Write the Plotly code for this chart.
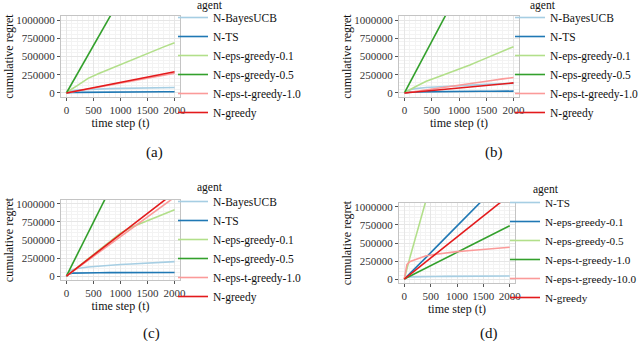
import plotly.graph_objects as go

# time steps sampled along each curve
steps = [0, 50, 100, 200, 400, 600, 800, 1000, 1200, 1400, 1600, 1800, 2000]

# cumulative regret, in thousands
# (a)
a_bayesucb = [0, 20, 30, 40, 50, 55, 60, 63, 66, 69, 71, 73, 75]
a_ts = [0, 5, 7, 9, 11, 12, 13, 14, 14, 15, 15, 16, 16]
a_eps01 = [0, 30, 55, 100, 200, 268, 330, 390, 450, 512, 570, 632, 690]
a_eps05 = [0, 65, 130, 260, 520, 780, 1040, 1300, 1560, 1820, 2080, 2340, 2600]
a_epst10 = [0, 7, 14, 27, 54, 81, 108, 135, 162, 189, 216, 243, 270]
a_greedy = [0, 7, 14, 29, 58, 87, 116, 145, 174, 203, 232, 261, 290]
# (b)
b_bayesucb = [0, 30, 45, 60, 75, 85, 93, 100, 108, 115, 121, 127, 132]
b_ts = [0, 8, 12, 15, 18, 19, 20, 21, 22, 23, 24, 24, 25]
b_eps01 = [0, 25, 45, 85, 160, 215, 270, 322, 385, 447, 510, 572, 635]
b_eps05 = [0, 70, 141, 282, 564, 846, 1128, 1410, 1692, 1974, 2256, 2538, 2820]
b_epst10 = [0, 5, 11, 21, 43, 64, 86, 107, 129, 150, 172, 193, 212]
b_greedy = [0, 3, 7, 14, 28, 41, 55, 69, 83, 97, 110, 124, 138]
# (c)
c_bayesucb = [0, 60, 85, 105, 125, 140, 150, 160, 168, 176, 184, 192, 200]
c_ts = [0, 30, 40, 43, 45, 46, 47, 48, 48, 49, 49, 50, 50]
c_eps01 = [0, 30, 60, 120, 240, 360, 480, 595, 676, 738, 798, 859, 920]
c_eps05 = [0, 75, 150, 280, 590, 880, 1190, 1490, 1790, 2090, 2390, 2690, 2990]
c_epst10 = [0, 27, 55, 109, 219, 328, 438, 547, 656, 766, 875, 985, 1094]
c_greedy = [0, 29, 58, 116, 232, 348, 464, 580, 696, 812, 928, 1044, 1160]
# (d)
d_ts = [0, 25, 30, 33, 35, 36, 37, 38, 39, 40, 40, 41, 42]
d_eps01 = [0, 35, 70, 150, 290, 440, 590, 740, 880, 1030, 1180, 1320, 1470]
d_eps05 = [0, 150, 280, 540, 1050, 1580, 2110, 2640, 3170, 3700, 4230, 4760, 5290]
d_epst10 = [0, 18, 37, 74, 148, 222, 296, 370, 444, 518, 592, 666, 740]
d_epst100 = [0, 200, 240, 270, 320, 345, 365, 380, 393, 405, 418, 430, 442]
d_greedy = [0, 29, 58, 117, 233, 350, 466, 583, 700, 816, 933, 1050, 1166]

paired = ["#a6cee3", "#1f78b4", "#b2df8a", "#33a02c", "#fb9a99", "#e31a1c"]

agents_abc = ["N-BayesUCB", "N-TS", "N-eps-greedy-0.1", "N-eps-greedy-0.5", "N-eps-t-greedy-1.0", "N-greedy"]
agents_d = ["N-TS", "N-eps-greedy-0.1", "N-eps-greedy-0.5", "N-eps-t-greedy-1.0", "N-eps-t-greedy-10.0", "N-greedy"]

panels = [
    (agents_abc, [a_bayesucb, a_ts, a_eps01, a_eps05, a_epst10, a_greedy]),
    (agents_abc, [b_bayesucb, b_ts, b_eps01, b_eps05, b_epst10, b_greedy]),
    (agents_abc, [c_bayesucb, c_ts, c_eps01, c_eps05, c_epst10, c_greedy]),
    (agents_d, [d_ts, d_eps01, d_eps05, d_epst10, d_epst100, d_greedy]),
]

W, H = 640, 341
# plot areas in pixels: left, right, top, bottom
boxes = [(61, 180, 16, 97), (399, 519, 16, 97), (61, 180, 200, 280), (399, 515, 203, 283)]
legpos = [(173, 3), (510, 3), (173, 187), (505, 188)]   # legend top-left
legsize = [11.5, 11.5, 11.5, 11.2]
agentpos = [(195, 6), (528, 6), (195, 188), (531, 190)]
caps = [("(a)", 154, 152), ("(b)", 494, 152), ("(c)", 151, 333), ("(d)", 489, 333)]

serif = "Liberation Serif, Times New Roman, serif"
fig = go.Figure()

for i, (names, series) in enumerate(panels):
    n = i + 1
    sfx = "" if n == 1 else str(n)
    for j, (name, vals) in enumerate(zip(names, series)):
        fig.add_trace(go.Scatter(
            x=steps, y=[v * 1000 for v in vals], mode="lines", name=name,
            line=dict(color=paired[j], width=1.6),
            xaxis="x" + sfx, yaxis="y" + sfx, legend="legend" + sfx,
        ))
    l, r, t, b = boxes[i]
    axcommon = dict(
        showline=True, mirror=True, linecolor="#c4c4c4", linewidth=1,
        gridcolor="#e6e6e6", gridwidth=1, zeroline=False,
        ticks="outside", ticklen=3, tickcolor="#555", tickwidth=1,
        tickfont=dict(family=serif, size=11, color="#333"),
        minor=dict(showgrid=True, gridcolor="#f3f3f3"),
    )
    fig.update_layout(**{
        "xaxis" + sfx: dict(
            domain=[l / W, r / W], anchor="y" + sfx, range=[-100, 2100],
            tickvals=[0, 500, 1000, 1500, 2000],
            title=dict(text="time step (t)", font=dict(family=serif, size=12, color="#111"), standoff=2),
            **axcommon),
        "yaxis" + sfx: dict(
            domain=[1 - b / H, 1 - t / H], anchor="x" + sfx, range=[-55000, 1055000],
            tickvals=[0, 250000, 500000, 750000, 1000000], tickformat="d",
            title=dict(text="cumulative regret", font=dict(family=serif, size=12, color="#111"), standoff=0),
            **axcommon),
        "legend" + sfx: dict(
            x=legpos[i][0] / W, y=1 - legpos[i][1] / H, xanchor="left", yanchor="top",
            font=dict(family=serif, size=legsize[i], color="#111"),
            bgcolor="rgba(0,0,0,0)", itemwidth=30, tracegroupgap=0,
        ),
    })
    fig.add_annotation(text="agent", x=agentpos[i][0] / W, y=1 - agentpos[i][1] / H,
                       xref="paper", yref="paper", xanchor="left", yanchor="middle",
                       showarrow=False, font=dict(family=serif, size=11.5, color="#111"))
    fig.add_annotation(text=caps[i][0], x=caps[i][1] / W, y=1 - caps[i][2] / H,
                       xref="paper", yref="paper", xanchor="center", yanchor="middle",
                       showarrow=False, font=dict(family=serif, size=15, color="#111"))

fig.update_layout(
    width=W, height=H, margin=dict(l=0, r=0, t=0, b=0, autoexpand=False),
    paper_bgcolor="white", plot_bgcolor="white", showlegend=True,
)

# page body has a default 8px margin; drop it so the figure sits at the corner
fig.write_html("out.html", config={"displayModeBar": False},
               post_script="document.body.style.margin='0';document.body.style.overflow='hidden';")
